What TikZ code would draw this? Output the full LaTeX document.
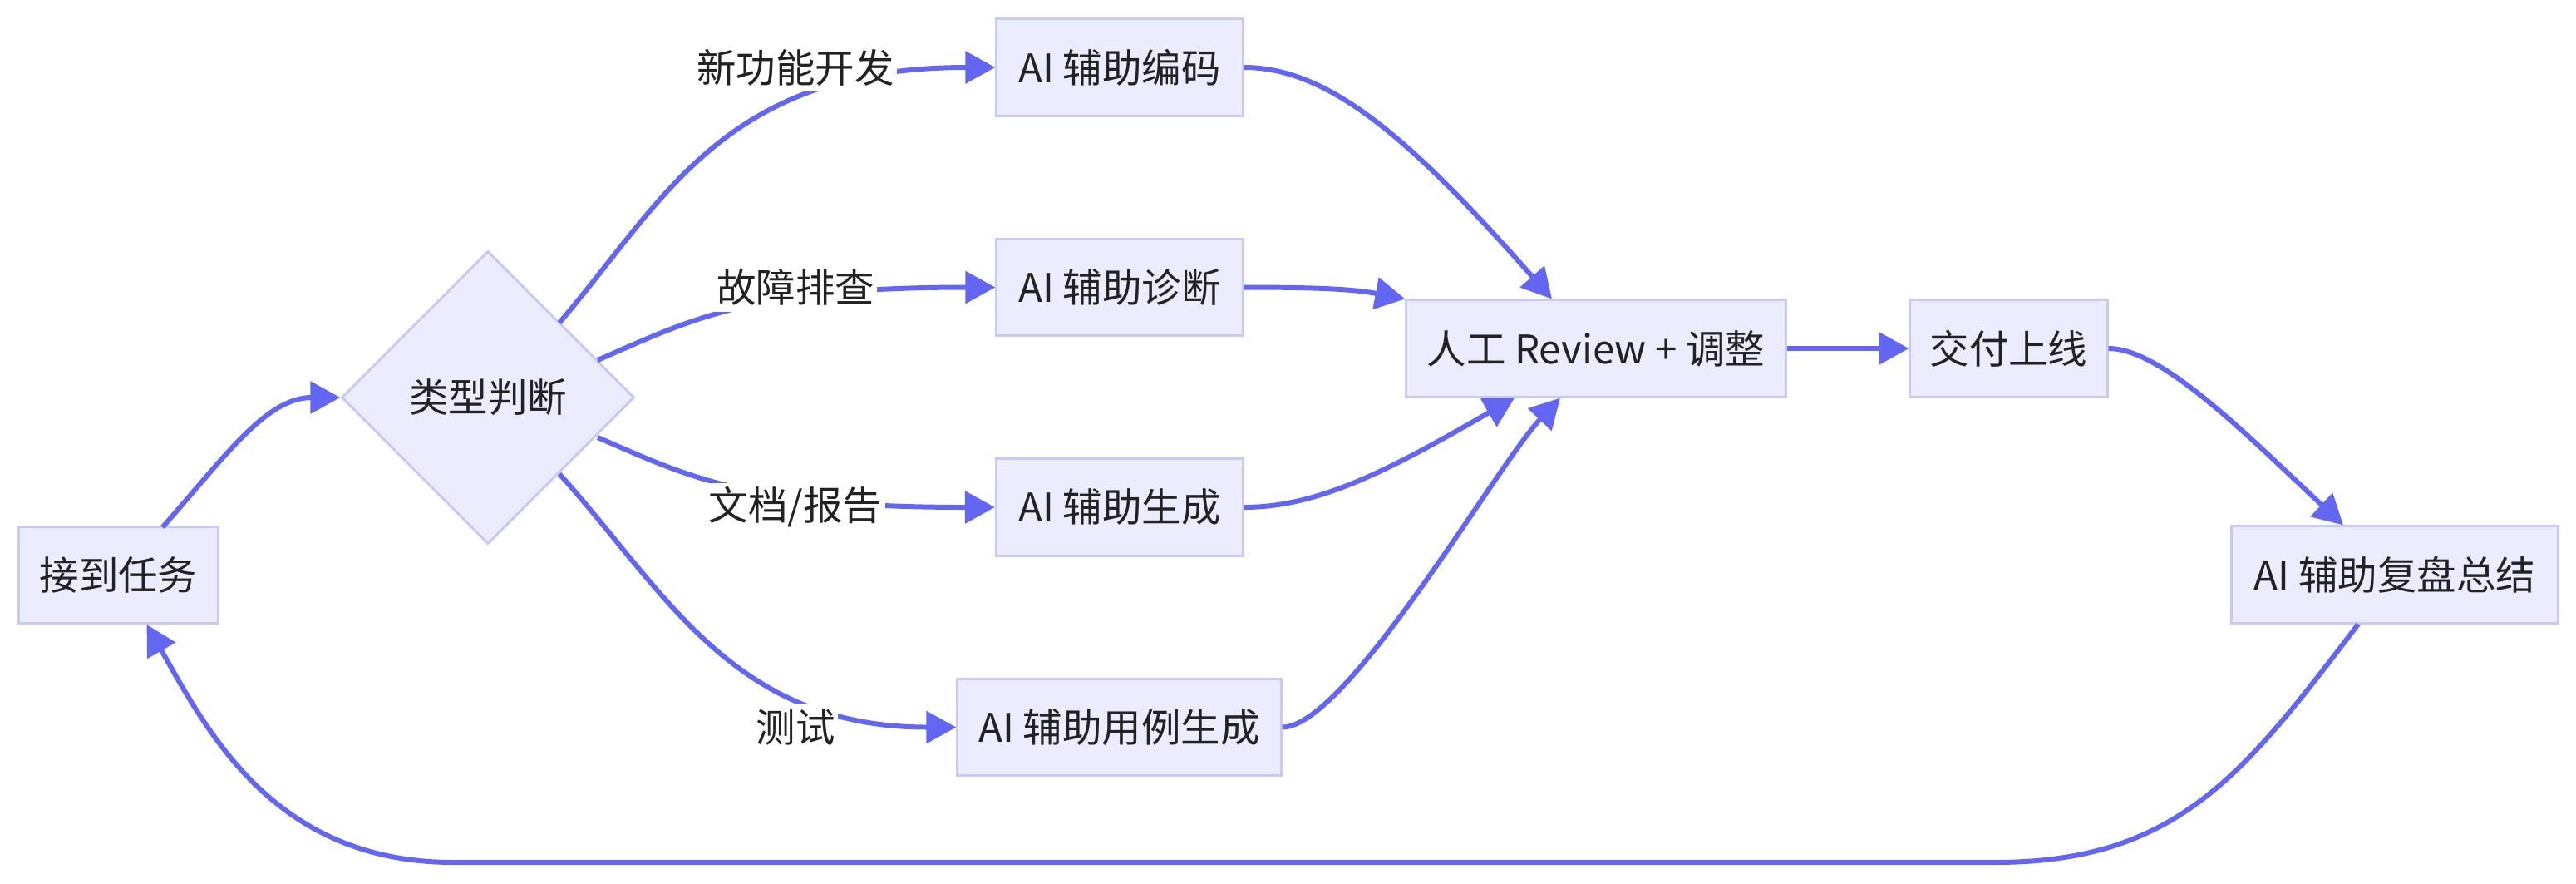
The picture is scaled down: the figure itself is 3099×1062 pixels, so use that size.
\documentclass[tikz,border=0pt]{standalone}
\usepackage{fontspec}
\newfontfamily\cjk{Noto Sans CJK SC}
\usetikzlibrary{shapes.geometric,arrows.meta,calc}
\definecolor{edgec}{HTML}{6366F1}
\definecolor{nodefill}{HTML}{ECECFF}
\definecolor{nodeline}{HTML}{C9C9F5}
\definecolor{txt}{HTML}{222222}
\tikzset{
  box/.style={draw=nodeline, fill=nodefill, line width=0.85pt, inner sep=0pt,
    minimum height=1.16cm, text=txt, font=\cjk\fontsize{13.5}{16}\selectfont},
  dec/.style={diamond, draw=nodeline, fill=nodefill, line width=0.85pt, inner sep=0pt,
    aspect=1, minimum width=3.52cm, minimum height=3.52cm, text=txt,
    font=\cjk\fontsize{13.5}{16}\selectfont},
  lbl/.style={fill=white, inner xsep=1pt, inner ysep=0pt, minimum height=0.58cm,
    text=txt, font=\cjk\fontsize{13.5}{16}\selectfont},
  edge/.style={draw=edgec, line width=1.7pt,
    -{Triangle[length=0.36cm, width=0.38cm]}},
}
\begin{document}
\begin{tikzpicture}[x=0.01cm, y=-0.01cm]
\useasboundingbox (0,0) rectangle (3099,1062);
% nodes
\node[box, minimum width=2.39cm] (A) at (142.5,691.5) {接到任务};
\node[dec] (B) at (587,478) {类型判断};
\node[box, minimum width=2.96cm] (C) at (1347,81) {AI 辅助编码};
\node[box, minimum width=2.96cm] (D) at (1347,345.5) {AI 辅助诊断};
\node[box, minimum width=2.97cm] (E) at (1347,610) {AI 辅助生成};
\node[box, minimum width=3.89cm] (F) at (1346.5,874.5) {AI 辅助用例生成};
\node[box, minimum width=4.56cm] (G) at (1920,419) {人工 Review + 调整};
\node[box, minimum width=2.37cm] (H) at (2416.5,419) {交付上线};
\node[box, minimum width=3.92cm] (I) at (2881,691) {AI 辅助复盘总结};
% edges
\draw[edge] ($(A)+(53,-57.5)$) .. controls (270,550) and (320,478) .. (B.west);
\draw[edge] ($(B)+(86,-90)$) .. controls (800,240) and (870,81) .. (C.west);
\draw[edge] ($(B)+(132,-45)$) .. controls (830,385) and (900,345.5) .. (D.west);
\draw[edge] ($(B)+(132,48)$) .. controls (830,574) and (900,610) .. (E.west);
\draw[edge] ($(B)+(86,92)$) .. controls (800,710) and (880,874.5) .. (F.west);
\draw[edge] (C.east) .. controls (1600,81) and (1700,170) .. ($(G.north)+(-53,0)$);
\draw[edge] (D.east) .. controls (1590,345.5) and (1630,348) .. (G.north west);
\draw[edge] (E.east) .. controls (1590,610) and (1680,560) .. ($(G.south)+(-98,0)$);
\draw[edge] (F.east) .. controls (1620,874.5) and (1800,560) .. ($(G.south)+(-43,0)$);
\draw[edge] (G) -- (H);
\draw[edge] (H.east) .. controls (2600,419) and (2700,520) .. ($(I.north)+(-62,0)$);
\draw[edge] ($(I.south)+(-44,0)$) .. controls (2700,930) and (2620,1037) .. (2400,1037)
  -- (546,1037) .. controls (330,1037) and (250,880) .. ($(A.south)+(34,0)$);
% edge labels
\node[lbl] (L1) at (957,81) {新功能开发};
\node[lbl] (L2) at (957,345.5) {故障排查};
\node[lbl] (L3) at (957,610) {文档/报告};
\node[lbl] (L4) at (957,874.5) {测试};
\end{tikzpicture}
\end{document}
